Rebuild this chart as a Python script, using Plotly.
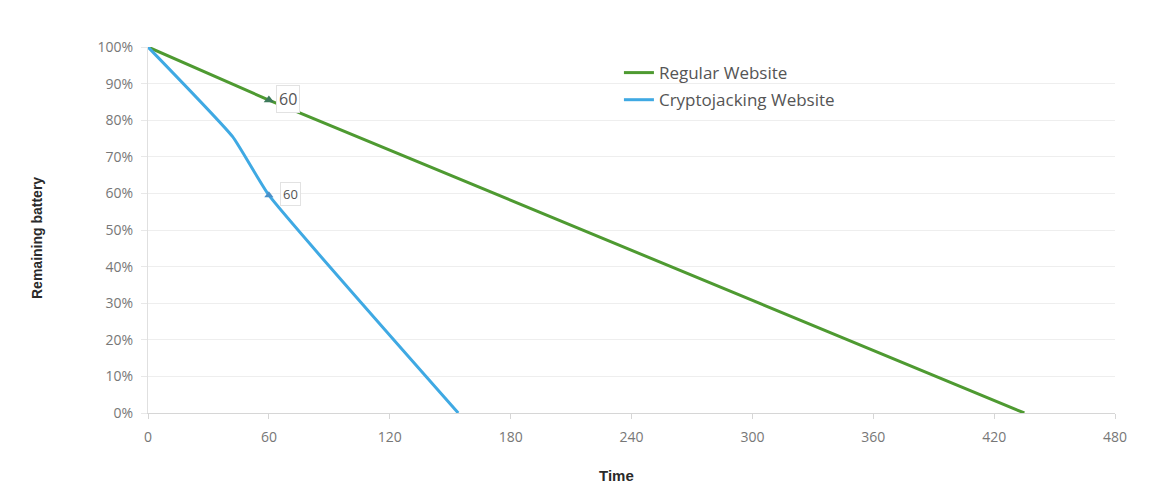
import plotly.graph_objects as go

# Data
regular_time = [0, 60, 435]
regular_battery = [100, 85.5, 0]
crypto_time = [0, 42, 60, 154]
crypto_battery = [100, 75.5, 59.5, 0]
marker_time = 60
regular_marker = 85.5
crypto_marker = 59.5
x_ticks = [0, 60, 120, 180, 240, 300, 360, 420, 480]
y_ticks = [0, 10, 20, 30, 40, 50, 60, 70, 80, 90, 100]

GREEN = "#4e9a31"
BLUE = "#3fa9e3"
FONT = "Open Sans"
TITLE_FONT = "Liberation Sans"

fig = go.Figure()
fig.add_trace(go.Scatter(x=regular_time, y=regular_battery, mode="lines",
                         name="Regular Website", legendgroup="a",
                         line=dict(color=GREEN, width=3)))
fig.add_trace(go.Scatter(x=crypto_time, y=crypto_battery, mode="lines",
                         name="Cryptojacking Website", legendgroup="b",
                         line=dict(color=BLUE, width=3, shape="spline", smoothing=0.4)))
fig.add_trace(go.Scatter(x=[marker_time], y=[regular_marker], mode="markers",
                         marker=dict(symbol="triangle-up", size=9, color="#3d7a5a"),
                         showlegend=False, hoverinfo="skip"))
fig.add_trace(go.Scatter(x=[marker_time], y=[crypto_marker], mode="markers",
                         marker=dict(symbol="triangle-up", size=8, color="#4a90c8"),
                         showlegend=False, hoverinfo="skip"))

fig.add_annotation(x=marker_time, y=regular_marker, text=str(marker_time),
                   showarrow=False, xanchor="left", xshift=7, yshift=1,
                   font=dict(family=FONT, size=16, color="#555"),
                   bgcolor="white", bordercolor="#e2e2e2", borderwidth=1, borderpad=2)
fig.add_annotation(x=marker_time, y=crypto_marker, text=str(marker_time),
                   showarrow=False, xanchor="left", xshift=11, yshift=1,
                   font=dict(family=FONT, size=13, color="#555"),
                   bgcolor="white", bordercolor="#e2e2e2", borderwidth=1, borderpad=2)

# axis titles placed as annotations (paper coords relative to plot area)
L, T, PW, PH = 140, 39, 967, 366
fig.add_annotation(xref="paper", yref="paper", x=(29 - L) / PW, y=1 - (238 - 8 - T) / PH,
                   text="<b>Remaining battery</b>", textangle=-90, showarrow=False,
                   xanchor="center", yanchor="middle",
                   font=dict(family=TITLE_FONT, size=14, color="#2a2a2a"))
fig.add_annotation(xref="paper", yref="paper", x=(608 - L) / PW, y=-(475 - 8 - T - PH) / PH,
                   text="<b>Time</b>", showarrow=False, xanchor="center", yanchor="middle",
                   font=dict(family=TITLE_FONT, size=15, color="#2a2a2a"))

fig.update_layout(
    width=1157, height=491,
    margin=dict(l=L, r=50, t=T, b=86, autoexpand=False),
    paper_bgcolor="white", plot_bgcolor="white",
    font=dict(family=FONT, color="#666", size=14),
    legend=dict(x=0.487, y=0.978, xanchor="left", yanchor="top",
                bgcolor="rgba(0,0,0,0)", itemwidth=30, traceorder="grouped",
                tracegroupgap=2, font=dict(family=FONT, size=17, color="#555")),
    xaxis=dict(range=[0, 480], tickvals=x_ticks, ticktext=[str(v) for v in x_ticks],
               showgrid=False, zeroline=False, showline=True, linecolor="#d6d6d6",
               linewidth=1, ticks="outside", ticklen=5, tickcolor="#d6d6d6",
               ticklabelstandoff=6, tickfont=dict(size=14, color="#777")),
    yaxis=dict(range=[0, 100], tickvals=y_ticks, ticktext=[f"{v}%" for v in y_ticks],
               showgrid=True, gridcolor="#eeeeee", zeroline=False, showline=True,
               linecolor="#e0e0e0", linewidth=1, ticks="outside", ticklen=6,
               tickcolor="#e8e8e8", ticklabelstandoff=5, tickfont=dict(size=14, color="#777")),
)

fig.write_html("out.html")
